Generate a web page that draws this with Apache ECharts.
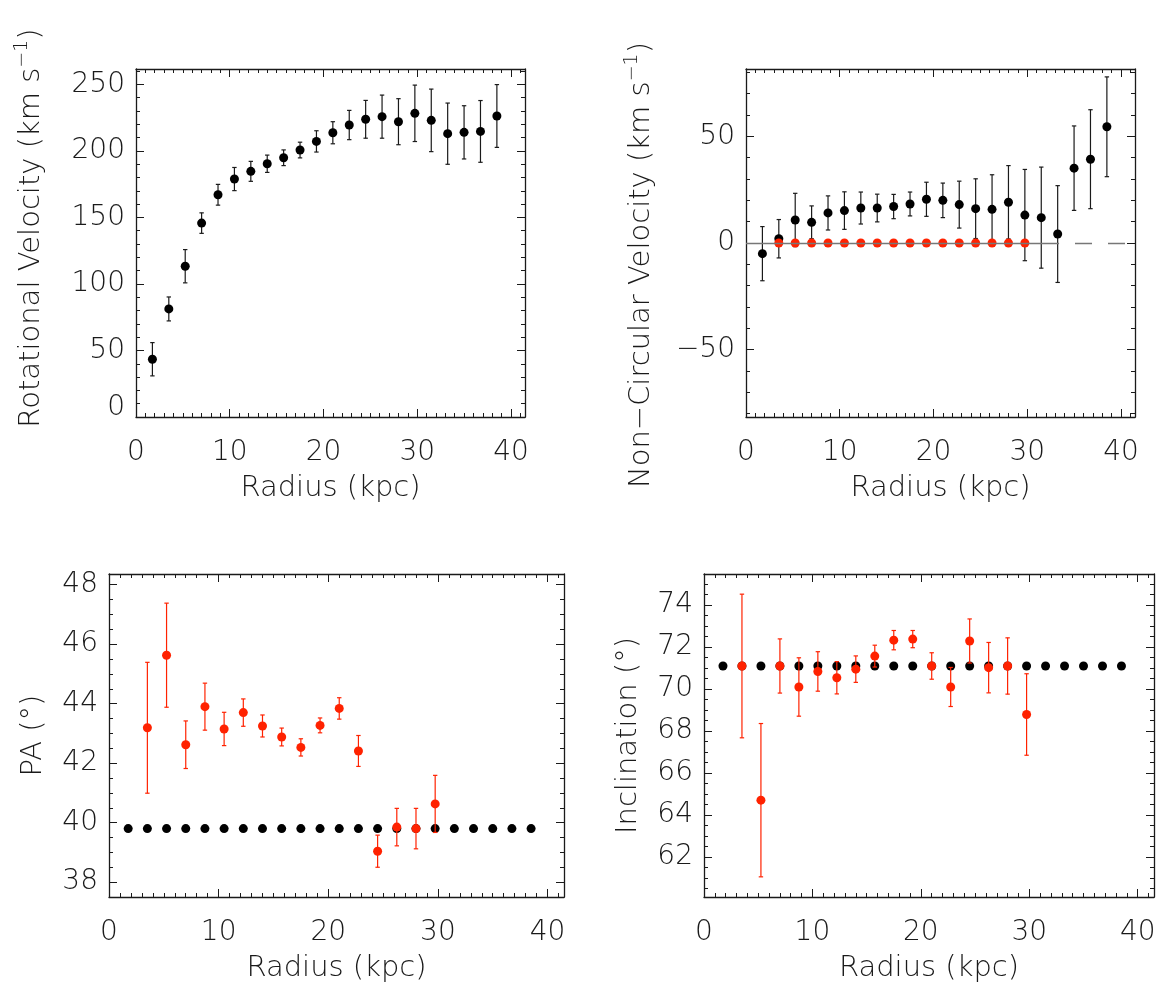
<!DOCTYPE html>
<html>
<head>
<meta charset="utf-8">
<script src="https://cdn.jsdelivr.net/npm/echarts@6/dist/echarts.min.js"></script>
<style>
html, body { margin: 0; padding: 0; background: #fff; }
#main { width: 1160px; height: 987px; }
</style>
</head>
<body>
<div id="main"></div>
<script>
// radii of all rings (kpc)
var radius = [1.75, 3.50, 5.25, 7.00, 8.75, 10.50, 12.25, 14.00, 15.75, 17.50, 19.25,
              21.00, 22.75, 24.50, 26.25, 28.00, 29.75, 31.50, 33.25, 35.00, 36.75, 38.50];
// rings with free-fitted geometry (red points)
var fitRadius = [3.50, 5.25, 7.00, 8.75, 10.50, 12.25, 14.00, 15.75, 17.50, 19.25,
                 21.00, 22.75, 24.50, 26.25, 28.00, 29.75];

// rotational velocity (km/s)
var vrot = [43.4, 81.2, 113.3, 145.7, 167.0, 178.8, 184.6, 190.3, 194.8, 200.6, 207.1,
            213.6, 219.4, 223.7, 225.7, 221.9, 228.2, 222.9, 212.9, 213.9, 214.6, 226.2];
var vrotErr = [12.5, 9.0, 12.5, 7.7, 7.8, 8.7, 7.5, 6.5, 5.9, 5.9, 8.0,
               8.3, 11.0, 14.2, 16.2, 17.3, 21.2, 23.5, 23.0, 20.0, 23.2, 23.6];

// non-circular velocity (km/s)
var vnc = [-5.0, 2.0, 10.8, 9.7, 14.1, 15.2, 16.4, 16.4, 17.1, 18.3, 20.5,
           20.0, 18.0, 16.1, 15.8, 19.1, 13.1, 11.9, 4.2, 35.1, 39.3, 54.5];
var vncErr = [12.7, 9.0, 12.5, 7.7, 8.0, 8.8, 7.5, 6.5, 5.7, 5.6, 8.0,
              8.1, 11.0, 14.0, 16.2, 17.2, 21.4, 23.7, 22.7, 19.8, 23.2, 23.4];
var vncFit = [0, 0, 0, 0, 0, 0, 0, 0, 0, 0, 0, 0, 0, 0, 0, 0];
var zeroSolid = [0, 33.4];
var zeroDashed = [35.1, 41.5];

// position angle (deg)
var paModel = [39.8, 39.8, 39.8, 39.8, 39.8, 39.8, 39.8, 39.8, 39.8, 39.8, 39.8,
               39.8, 39.8, 39.8, 39.8, 39.8, 39.8, 39.8, 39.8, 39.8, 39.8, 39.8];
var paFit = [43.19, 45.63, 42.62, 43.90, 43.15, 43.70, 43.25, 42.88, 42.53, 43.27,
             43.84, 42.41, 39.04, 39.85, 39.80, 40.63];
var paErr = [2.2, 1.75, 0.8, 0.79, 0.56, 0.46, 0.37, 0.3, 0.29, 0.25,
             0.36, 0.52, 0.54, 0.63, 0.68, 0.96];

// inclination (deg)
var incModel = [71.1, 71.1, 71.1, 71.1, 71.1, 71.1, 71.1, 71.1, 71.1, 71.1, 71.1,
                71.1, 71.1, 71.1, 71.1, 71.1, 71.1, 71.1, 71.1, 71.1, 71.1, 71.1];
var incFit = [71.1, 64.71, 71.1, 70.1, 70.84, 70.54, 70.95, 71.57, 72.33, 72.38,
              71.1, 70.1, 72.29, 71.02, 71.1, 68.79];
var incErr = [3.42, 3.65, 1.29, 1.39, 0.94, 0.77, 0.63, 0.52, 0.46, 0.41,
              0.63, 0.93, 1.05, 1.2, 1.34, 1.94];

// tick labels
var radiusTicks = [0, 10, 20, 30, 40];
var vrotTicks = [0, 50, 100, 150, 200, 250];
var vncTicks = [-50, 0, 50];
var paTicks = [38, 40, 42, 44, 46, 48];
var incTicks = [62, 64, 66, 68, 70, 72, 74];

var FONT = 'DejaVu Sans';
var WEIGHT = 200;
var INK = '#1a1a1a';
var RED = '#ff2200';
var LABEL_SIZE = 28;
var NAME_SIZE = 29;

function steps(min, max, step) {
    var out = [];
    var v = Math.ceil(min / step - 1e-9) * step;
    for (; v <= max + 1e-9; v += step) out.push(+v.toFixed(4));
    return out;
}

function fmt(v) {
    return String(v).replace('-', '\u2212');
}

// four axes per side pair: main (labels), main minor, opposite, opposite minor
function boxAxes(dim, g, min, max, majors, minorStep, name, nameGap, extra) {
    var pos = dim === 'x' ? ['bottom', 'top'] : ['left', 'right'];
    var minors = steps(min, max, minorStep);
    var list = [];
    pos.forEach(function (p, k) {
        list.push({
            type: 'value', gridIndex: g, position: p, min: min, max: max,
            axisLine: { show: true, onZero: false, lineStyle: { color: INK, width: 1.3 } },
            axisTick: { show: true, inside: true, length: 8, customValues: majors,
                        lineStyle: { color: INK, width: 1 } },
            axisLabel: Object.assign({
                show: k === 0, customValues: majors, formatter: fmt,
                fontFamily: FONT, fontWeight: WEIGHT, fontSize: LABEL_SIZE, color: INK,
                margin: dim === 'x' ? 22 : 11
            }, (extra && k === 0) ? extra : {}),
            splitLine: { show: false },
            name: k === 0 ? name : '',
            nameLocation: 'middle',
            nameGap: nameGap,
            nameRotate: dim === 'y' ? 90 : 0,
            nameTextStyle: { fontFamily: FONT, fontWeight: WEIGHT, fontSize: NAME_SIZE, color: INK }
        });
        list.push({
            type: 'value', gridIndex: g, position: p, min: min, max: max,
            axisLine: { show: false, onZero: false },
            axisTick: { show: true, inside: true, length: 4, customValues: minors,
                        lineStyle: { color: INK, width: 1 } },
            axisLabel: { show: false },
            splitLine: { show: false }
        });
    });
    return list;
}

function richName(text, sup, tail) {
    return '{t|' + text + '}{s|' + sup + '}{t|' + tail + '}';
}
var richStyles = {
    t: { fontFamily: FONT, fontWeight: WEIGHT, fontSize: NAME_SIZE, color: INK, lineHeight: 36 },
    s: { fontFamily: FONT, fontWeight: WEIGHT, fontSize: 19, color: INK, lineHeight: 19, verticalAlign: 'top' }
};

function errorBars(xs, ys, errs, color, g, z) {
    return {
        type: 'custom', xAxisIndex: 4 * g, yAxisIndex: 4 * g, z: z, silent: true,
        data: xs.map(function (x, i) { return [x, ys[i] - errs[i], ys[i] + errs[i]]; }),
        encode: { x: 0, y: [1, 2] },
        renderItem: function (params, api) {
            var lo = api.coord([api.value(0), api.value(1)]);
            var hi = api.coord([api.value(0), api.value(2)]);
            var w = 2.2;
            var st = { stroke: color, lineWidth: 1.2 };
            return {
                type: 'group',
                children: [
                    { type: 'line', shape: { x1: lo[0], y1: lo[1], x2: hi[0], y2: hi[1] }, style: st },
                    { type: 'line', shape: { x1: lo[0] - w, y1: lo[1], x2: lo[0] + w, y2: lo[1] }, style: st },
                    { type: 'line', shape: { x1: hi[0] - w, y1: hi[1], x2: hi[0] + w, y2: hi[1] }, style: st }
                ]
            };
        }
    };
}

function dots(xs, ys, color, g, z) {
    return {
        type: 'scatter', xAxisIndex: 4 * g, yAxisIndex: 4 * g, z: z, silent: true,
        symbol: 'circle', symbolSize: 9,
        itemStyle: { color: color, opacity: 1 },
        data: xs.map(function (x, i) { return [x, ys[i]]; })
    };
}

var xMax = 41.5;
var grids = [
    { left: 136, top: 69, width: 389, height: 348 },
    { left: 746, top: 69, width: 389, height: 348 },
    { left: 109, top: 574, width: 455, height: 323 },
    { left: 704, top: 574, width: 450, height: 323 }
];

var xAxes = [], yAxes = [];
for (var g = 0; g < 4; g++) {
    xAxes = xAxes.concat(boxAxes('x', g, 0, xMax, radiusTicks, 1, 'Radius (kpc)', 57));
}
yAxes = yAxes.concat(boxAxes('y', 0, 0, 261.5, vrotTicks, 10,
    richName('Rotational Velocity (km s', '\u22121', ')'), 87, {
        formatter: function (v) { return v === 0 ? '{lift|0}' : fmt(v); },
        rich: { lift: { fontFamily: FONT, fontWeight: WEIGHT, fontSize: LABEL_SIZE, color: INK, padding: [0, 0, 18, 0] } }
    }));
yAxes = yAxes.concat(boxAxes('y', 1, -81.6, 81.6, vncTicks, 10,
    richName('Non\u2212Circular Velocity (km s', '\u22121', ')'), 87));
yAxes = yAxes.concat(boxAxes('y', 2, 37.5, 48.36, paTicks, 0.5, 'PA (\u00b0)', 61));
yAxes = yAxes.concat(boxAxes('y', 3, 60.1, 75.48, incTicks, 0.5, 'Inclination (\u00b0)', 61));
// the two velocity titles sit slightly off-centre in the original
yAxes[0].nameTextStyle = { rich: richStyles, padding: [0, 0, 0, 30] };
yAxes[4].nameTextStyle = { rich: richStyles, padding: [0, 44, 0, 0] };

var zeroLine = {
    type: 'line', xAxisIndex: 4, yAxisIndex: 4, z: 1, silent: true,
    data: [], symbol: 'none',
    markLine: {
        silent: true, symbol: ['none', 'none'], label: { show: false },
        data: [
            [{ coord: [zeroSolid[0], 0], lineStyle: { type: 'solid' } }, { coord: [zeroSolid[1], 0] }],
            [{ coord: [zeroDashed[0], 0], lineStyle: { type: [17, 16] } }, { coord: [zeroDashed[1], 0] }]
        ],
        lineStyle: { color: '#777', width: 1.3 }
    }
};

var option = {
    animation: false,
    backgroundColor: '#fff',
    grid: grids,
    xAxis: xAxes,
    yAxis: yAxes,
    series: [
        errorBars(radius, vrot, vrotErr, INK, 0, 2),
        dots(radius, vrot, '#000', 0, 3),

        zeroLine,
        errorBars(radius, vnc, vncErr, INK, 1, 2),
        dots(radius, vnc, '#000', 1, 3),
        dots(fitRadius, vncFit, RED, 1, 4),

        dots(radius, paModel, '#000', 2, 2),
        errorBars(fitRadius, paFit, paErr, RED, 2, 3),
        dots(fitRadius, paFit, RED, 2, 4),

        dots(radius, incModel, '#000', 3, 2),
        errorBars(fitRadius, incFit, incErr, RED, 3, 3),
        dots(fitRadius, incFit, RED, 3, 4)
    ]
};

var chart = echarts.init(document.getElementById('main'));
chart.setOption(option);
window.addEventListener('resize', function () { chart.resize(); });
</script>
</body>
</html>
